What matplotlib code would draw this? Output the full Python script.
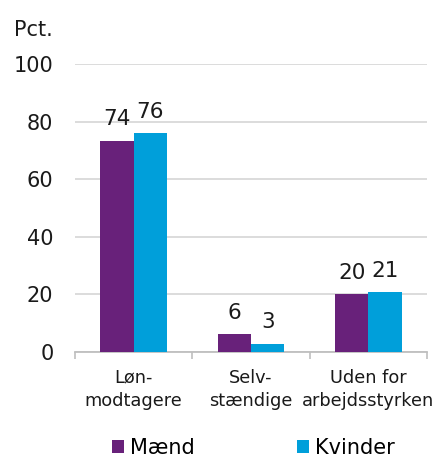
import matplotlib.pyplot as plt
import numpy as np

categories = ["Løn-\nmodtagere", "Selv-\nstændige", "Uden for\narbejdsstyrken"]
maend = [73.4, 6.3, 20.2]
kvinder = [76.0, 2.9, 20.9]
maend_labels = ["74", "6", "20"]
kvinder_labels = ["76", "3", "21"]

purple = "#68217a"
blue = "#009fda"

plt.rcParams["font.family"] = "DejaVu Sans"

fig = plt.figure(figsize=(4.43, 4.59), dpi=100)
ax = fig.add_axes([75 / 443, 1 - 352 / 459, 352 / 443, 288 / 459])

x = np.arange(len(categories))
w = 0.285
b1 = ax.bar(x - w / 2, maend, w, color=purple, label="Mænd", zorder=3)
b2 = ax.bar(x + w / 2, kvinder, w, color=blue, label="Kvinder", zorder=3)

for bars, labs in [(b1, maend_labels), (b2, kvinder_labels)]:
    for r, t in zip(bars, labs):
        ax.annotate(t, (r.get_x() + r.get_width() / 2, r.get_height()),
                    xytext=(0, 11), textcoords="offset points",
                    ha="center", va="baseline", fontsize=15.5, color="#1a1a1a")

ax.set_ylim(0, 100)
ax.set_xlim(-0.5, 2.5)
ax.set_yticks([0, 20, 40, 60, 80, 100])
ax.tick_params(axis="y", length=0, labelsize=15, pad=15.5, labelcolor="#1a1a1a")
ax.yaxis.grid(True, color="#d9d9d9", linewidth=1.3, zorder=0)
ax.set_xticks(x)
ax.set_xticklabels(categories, fontsize=12.8, linespacing=1.35, color="#1a1a1a")
ax.tick_params(axis="x", length=0, pad=12)
# boundary tick marks
ax.set_xticks([-0.5, 0.5, 1.5, 2.5], minor=True)
ax.tick_params(axis="x", which="minor", length=5, color="#bfbfbf", width=1.2)

for s in ["top", "right", "left"]:
    ax.spines[s].set_visible(False)
ax.spines["bottom"].set_color("#bfbfbf")
ax.spines["bottom"].set_linewidth(1.3)

fig.text(14 / 443, 1 - 30 / 459, "Pct.", fontsize=15, va="center", color="#1a1a1a")

fig.legend(handles=[b1, b2], loc="center", bbox_to_anchor=(0.572, 1 - 448 / 459),
           ncol=2, frameon=False, fontsize=15, handlelength=0.55, handleheight=0.55,
           columnspacing=4.93, handletextpad=0.3)

fig.savefig("out.png", dpi=100)
